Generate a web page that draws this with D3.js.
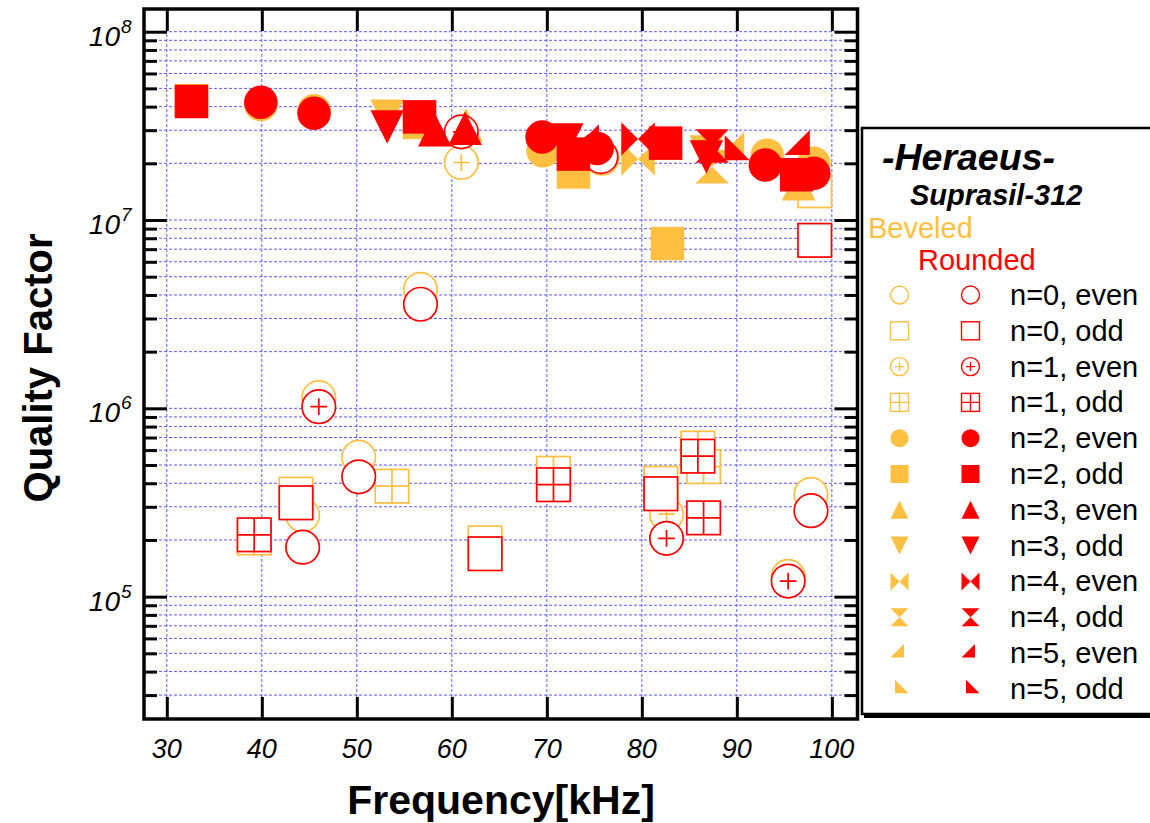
<!DOCTYPE html>
<html>
<head>
<meta charset="utf-8">
<script src="https://cdn.jsdelivr.net/npm/d3@7"></script>
<style>
  body { margin: 0; background: #fff; }
  svg { display: block; }
  text { font-family: "Liberation Sans", Arial, Helvetica, sans-serif; }
</style>
</head>
<body>
<svg id="chart" width="1150" height="823"></svg>
<script>
// ---- data: resonant frequency [kHz] and quality factor per mode ----
const modeNames = ["n=0, even", "n=0, odd", "n=1, even", "n=1, odd", "n=2, even", "n=2, odd",
                   "n=3, even", "n=3, odd", "n=4, even", "n=4, odd", "n=5, even", "n=5, odd"];

// Beveled sample
const bevN0Even = [[75.8, 2.13e7], [56.7, 4.28e6], [46.0, 1.14e6], [50.2, 5.5e5], [44.3, 2.71e5], [97.8, 3.49e5]];
const bevN0Odd  = [[98.2, 1.43e7], [43.6, 3.5e5], [63.5, 1.93e5], [82.0, 4.0e5]];
const bevN1Even = [[61.0, 2.02e7], [82.6, 2.74e5], [95.4, 1.28e5]];
const bevN1Odd  = [[39.2, 2.05e5], [53.7, 3.86e5], [70.7, 4.52e5], [85.9, 6.15e5], [86.5, 4.9e5]];
const bevN2Even = [[39.9, 4.1e7], [45.5, 3.8e7], [69.6, 2.33e7], [93.2, 2.21e7], [98.1, 2.0e7]];
const bevN2Odd  = [[32.6, 4.3e7], [56.6, 3.3e7], [72.8, 1.8e7], [82.7, 7.5e6]];
const bevN3Even = [[61.5, 3.2e7], [96.5, 1.56e7]];
const bevN3Odd  = [[53.2, 3.56e7], [86.8, 2.3e7]];
const bevN4Even = [[79.6, 2.11e7]];
const bevN4Odd  = [[87.4, 1.92e7]];
const bevN5Even = [[89.9, 2.4e7]];
const bevN5Odd  = [];

// Rounded sample
const rndN0Even = [[75.7, 2.17e7], [56.7, 3.57e6], [50.2, 4.33e5], [44.3, 1.83e5], [97.8, 2.86e5]];
const rndN0Odd  = [[98.2, 7.8e6], [43.6, 3.15e5], [63.5, 1.69e5], [82.0, 3.52e5]];
const rndN1Even = [[61.0, 2.94e7], [46.0, 1.02e6], [82.6, 2.04e5], [95.4, 1.21e5]];
const rndN1Odd  = [[39.2, 2.13e5], [70.7, 3.93e5], [85.9, 5.57e5], [86.5, 2.62e5]];
const rndN2Even = [[39.9, 4.22e7], [45.5, 3.69e7], [69.5, 2.76e7], [75.3, 2.4e7], [93.0, 1.96e7], [98.1, 1.77e7]];
const rndN2Odd  = [[32.6, 4.26e7], [56.6, 3.53e7], [72.8, 2.24e7], [82.5, 2.56e7], [96.3, 1.74e7]];
const rndN3Even = [[58.2, 3.02e7], [61.4, 3.07e7]];
const rndN3Odd  = [[53.2, 3.12e7], [72.1, 2.66e7], [86.8, 2.16e7]];
const rndN4Even = [[79.6, 2.69e7]];
const rndN4Odd  = [[87.4, 2.47e7]];
const rndN5Even = [[74.6, 2.63e7], [96.8, 2.45e7]];
const rndN5Odd  = [[89.6, 2.3e7]];

const xTickValues = [30, 40, 50, 60, 70, 80, 90, 100];
const yDecades = [5, 6, 7, 8];

const beveledSets = [bevN0Even, bevN0Odd, bevN1Even, bevN1Odd, bevN2Even, bevN2Odd,
                     bevN3Even, bevN3Odd, bevN4Even, bevN4Odd, bevN5Even, bevN5Odd];
const roundedSets = [rndN0Even, rndN0Odd, rndN1Even, rndN1Odd, rndN2Even, rndN2Odd,
                     rndN3Even, rndN3Odd, rndN4Even, rndN4Odd, rndN5Even, rndN5Odd];

// ---- styling ----
const ORANGE = "#ffbf40", RED = "#ff0000", GRID = "#5a5aff";
const shapeOf = ["circle", "square", "circlePlus", "squareGrid", "dot", "block",
                 "triUp", "triDown", "bowtie", "hourglass", "wedgeEven", "wedgeOdd"];

const svg = d3.select("#chart");
const L = 144, R = 857.5, T = 9, B = 719;

const x = d3.scaleLinear().domain([27.6, 102.7]).range([L, R]);
const y = d3.scaleLog().domain([2.24e4, 1.32e8]).range([B, T]);

// grid
const yGridVals = [];
for (let e = 4; e <= 8; e++) for (let m = 1; m <= 9; m++) {
  const v = m * Math.pow(10, e);
  if (v >= y.domain()[0] && v <= y.domain()[1]) yGridVals.push(v);
}
const grid = svg.append("g");
grid.selectAll("line.h").data(yGridVals).join("line")
  .attr("x1", L).attr("x2", R).attr("y1", d => y(d)).attr("y2", d => y(d))
  .attr("stroke", GRID).attr("stroke-width", 1).attr("stroke-dasharray", "3,2");
grid.selectAll("line.v").data(xTickValues).join("line")
  .attr("y1", T).attr("y2", B).attr("x1", d => x(d)).attr("x2", d => x(d))
  .attr("stroke", GRID).attr("stroke-width", 1).attr("stroke-dasharray", "3,2");

// axes with inward ticks
const isMajor = v => Math.abs(Math.log10(v) - Math.round(Math.log10(v))) < 1e-9;
const axG = svg.append("g");
function styleAxis(g) {
  g.select(".domain").remove();
  g.selectAll(".tick line").attr("stroke", "#000").attr("stroke-width", 3);
  g.selectAll(".tick text").remove();
}
axG.append("g").attr("transform", `translate(${L},0)`)
  .call(d3.axisLeft(y).tickValues(yGridVals).tickSize(0))
  .call(styleAxis)
  .selectAll(".tick line").attr("x2", d => isMajor(d) ? 23 : 13);
axG.append("g").attr("transform", `translate(${R},0)`)
  .call(d3.axisRight(y).tickValues(yGridVals).tickSize(0))
  .call(styleAxis)
  .selectAll(".tick line").attr("x2", d => isMajor(d) ? -23 : -13);
axG.append("g").attr("transform", `translate(0,${B})`)
  .call(d3.axisBottom(x).tickValues(xTickValues).tickSize(-22))
  .call(styleAxis);
axG.append("g").attr("transform", `translate(0,${T})`)
  .call(d3.axisTop(x).tickValues(xTickValues).tickSize(-22))
  .call(styleAxis);

// frame
svg.append("rect").attr("x", L).attr("y", T).attr("width", R - L).attr("height", B - T)
  .attr("fill", "none").attr("stroke", "#000").attr("stroke-width", 3.5);

// tick labels
const lab = svg.append("g").attr("font-style", "italic").attr("fill", "#000");
lab.selectAll("text.xl").data(xTickValues).join("text")
  .attr("x", d => x(d)).attr("y", 758).attr("text-anchor", "middle")
  .attr("font-size", 27).text(d => d);
yDecades.forEach(e => {
  const ty = y(Math.pow(10, e));
  lab.append("text").attr("x", 120).attr("y", ty + 14).attr("text-anchor", "end")
    .attr("font-size", 28).text("10");
  lab.append("text").attr("x", 121).attr("y", ty + 1).attr("text-anchor", "start")
    .attr("font-size", 19).text(e);
});

// axis titles
svg.append("text").attr("x", 501).attr("y", 814).attr("text-anchor", "middle")
  .attr("font-size", 41).attr("font-weight", "bold").text("Frequency[kHz]");
svg.append("text").attr("transform", "translate(52,368) rotate(-90)").attr("text-anchor", "middle")
  .attr("font-size", 40).attr("font-weight", "bold").text("Quality Factor");

// marker drawing
function marker(g, shape, s, color, sw) {
  const h = s / 2, w = 0.75 * s;
  const open = (sel) => sel.attr("fill", "#fff").attr("stroke", color).attr("stroke-width", sw);
  const solid = (sel) => sel.attr("fill", color).attr("stroke", "none");
  switch (shape) {
    case "circle": g.append("circle").attr("r", h).call(open); break;
    case "square": g.append("rect").attr("x", -h).attr("y", -h).attr("width", s).attr("height", s).call(open); break;
    case "circlePlus":
      g.append("circle").attr("r", h).call(open);
      g.append("path").attr("d", `M${-h * 0.5},0H${h * 0.5}M0,${-h * 0.5}V${h * 0.5}`).attr("stroke", color).attr("stroke-width", sw);
      break;
    case "squareGrid":
      g.append("rect").attr("x", -h).attr("y", -h).attr("width", s).attr("height", s).call(open);
      g.append("path").attr("d", `M${-h},0H${h}M0,${-h}V${h}`).attr("stroke", color).attr("stroke-width", sw);
      break;
    case "dot": g.append("circle").attr("r", h).call(solid); break;
    case "block": g.append("rect").attr("x", -h).attr("y", -h).attr("width", s).attr("height", s).call(solid); break;
    case "triUp": g.append("path").attr("d", `M0,${-h}L${h},${h}L${-h},${h}Z`).call(solid); break;
    case "triDown": g.append("path").attr("d", `M${-h},${-h}L${h},${-h}L0,${h}Z`).call(solid); break;
    case "bowtie": g.append("path").attr("d", `M${-h},${-h}L0,0L${h},${-h}L${h},${h}L0,0L${-h},${h}Z`).call(solid); break;
    case "hourglass": g.append("path").attr("d", `M${-h},${-h}L${h},${-h}L0,0L${h},${h}L${-h},${h}L0,0Z`).call(solid); break;
    case "wedgeEven": g.append("path").attr("d", `M${w / 3},${-2 * w / 3}L${w / 3},${w / 3}L${-2 * w / 3},${w / 3}Z`).call(solid); break;
    case "wedgeOdd": g.append("path").attr("d", `M${-w / 3},${-2 * w / 3}L${2 * w / 3},${w / 3}L${-w / 3},${w / 3}Z`).call(solid); break;
  }
}

// data points: beveled first, rounded on top
const pts = svg.append("g");
[[beveledSets, ORANGE], [roundedSets, RED]].forEach(([sets, color]) => {
  sets.forEach((set, i) => {
    set.forEach(([f, q]) => {
      const g = pts.append("g").attr("transform", `translate(${x(f)},${y(q)})`);
      marker(g, shapeOf[i], 33.5, color, 1.7);
    });
  });
});

// legend
const lg = svg.append("g");
lg.append("rect").attr("x", 864).attr("y", 130).attr("width", 300).attr("height", 588).attr("fill", "#000");
lg.append("rect").attr("x", 862).attr("y", 128).attr("width", 300).attr("height", 586)
  .attr("fill", "#fff").attr("stroke", "#000").attr("stroke-width", 2.5);
lg.append("text").attr("x", 882).attr("y", 170).attr("font-size", 37.5).attr("font-weight", "bold")
  .attr("font-style", "italic").text("-Heraeus-");
lg.append("text").attr("x", 910).attr("y", 205).attr("font-size", 29).attr("font-weight", "bold")
  .attr("font-style", "italic").text("Suprasil-312");
lg.append("text").attr("x", 868).attr("y", 238).attr("font-size", 29).attr("fill", ORANGE).text("Beveled");
lg.append("text").attr("x", 918).attr("y", 270).attr("font-size", 29).attr("fill", RED).text("Rounded");
modeNames.forEach((name, i) => {
  const ry = 295 + i * 35.8;
  marker(lg.append("g").attr("transform", `translate(899.5,${ry})`), shapeOf[i], 18, ORANGE, 1.4);
  marker(lg.append("g").attr("transform", `translate(970.5,${ry})`), shapeOf[i], 18, RED, 1.4);
  lg.append("text").attr("x", 1010).attr("y", ry + 10).attr("font-size", 29).text(name);
});
</script>
</body>
</html>
